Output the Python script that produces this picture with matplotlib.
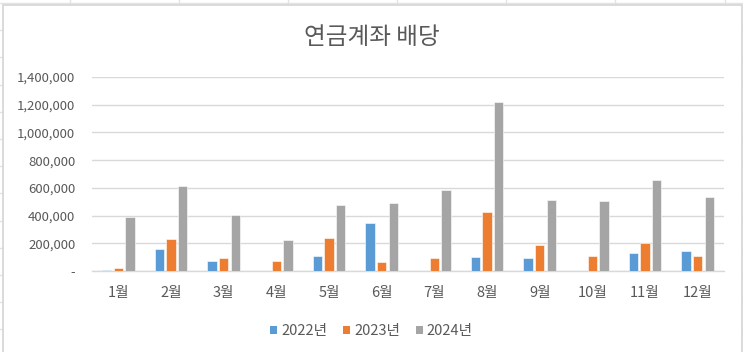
import matplotlib
matplotlib.use("Agg")
import matplotlib.pyplot as plt
from matplotlib.patches import Patch, Rectangle
from matplotlib.lines import Line2D
from matplotlib.ticker import FuncFormatter
import numpy as np

plt.rcParams['font.family'] = ['Noto Sans CJK KR', 'DejaVu Sans']

months = ['1월', '2월', '3월', '4월', '5월', '6월', '7월', '8월', '9월', '10월', '11월', '12월']
series_names = ['2022년', '2023년', '2024년']
v2022 = [7000, 156000, 70000, 0, 108000, 346000, 0, 99000, 94000, 0, 130000, 144000]
v2023 = [19000, 231000, 94000, 70000, 240000, 65000, 94000, 428000, 185000, 108000, 200000, 108000]
v2024 = [387000, 611000, 404000, 221000, 473000, 493000, 584000, 1221000, 512000, 502000, 656000, 534000]
colors = ['#5B9BD5', '#ED7D31', '#A5A5A5']
yticks = [0, 200000, 400000, 600000, 800000, 1000000, 1200000, 1400000]

W, H = 743, 352
fig = plt.figure(figsize=(W / 100, H / 100), dpi=100)
fig.patch.set_facecolor('white')

# spreadsheet gridlines in background
gc = '#E3E3E3'
for x in [70, 179, 288, 397, 506, 615, 725]:
    fig.add_artist(Line2D([x / W, x / W], [0, 1], color=gc, lw=1, zorder=-3))
for k in range(14):
    y = 3 + 27.2 * k
    fig.add_artist(Line2D([0, 1], [1 - y / H, 1 - y / H], color=gc, lw=1, zorder=-3))

# chart area
fig.add_artist(Rectangle((3 / W, -0.05), (742 - 3) / W, 1.05 - 5 / H,
                         facecolor='white', edgecolor='#D4D4D4', lw=1.2, zorder=-2))

ax = fig.add_axes([92 / W, 1 - 271 / H, (724 - 92) / W, (271 - 77) / H])
ax.set_facecolor('none')
x = np.arange(len(months))
step = 0.224
bw = 0.177
for i, (vals, c) in enumerate(zip([v2022, v2023, v2024], colors)):
    ax.bar(x + (i - 1) * step, vals, width=bw, color=c, edgecolor='white', linewidth=0.4, zorder=3)

ax.set_xlim(-0.5, 11.5)
ax.set_ylim(0, 1400000)
ax.set_yticks(yticks)
ax.yaxis.set_major_formatter(FuncFormatter(lambda v, p: '-' if v == 0 else f'{int(v):,}'))
ax.set_xticks(x)
ax.set_xticklabels(months)
ax.grid(axis='y', color='#D9D9D9', lw=1, zorder=0)
for s in ['left', 'right', 'top']:
    ax.spines[s].set_visible(False)
ax.spines['bottom'].set_color('#D9D9D9')
ax.spines['bottom'].set_linewidth(1)
ax.tick_params(axis='both', length=0, colors='#595959')
ax.tick_params(axis='y', pad=12, labelsize=9.5)
ax.tick_params(axis='x', pad=11, labelsize=10.5)

fig.text(0.5, 1 - 38 / H, '연금계좌 배당', ha='center', va='center', fontsize=17, color='#595959')

handles = [Patch(facecolor=c, edgecolor='none') for c in colors]
fig.legend(handles, series_names, loc='center', bbox_to_anchor=(0.5, 1 - 331 / H), ncol=3,
           frameon=False, fontsize=10.5, labelcolor='#595959', handlelength=0.5, handleheight=0.5,
           handletextpad=0.25, columnspacing=1.1)

fig.savefig('out.png', dpi=100)
